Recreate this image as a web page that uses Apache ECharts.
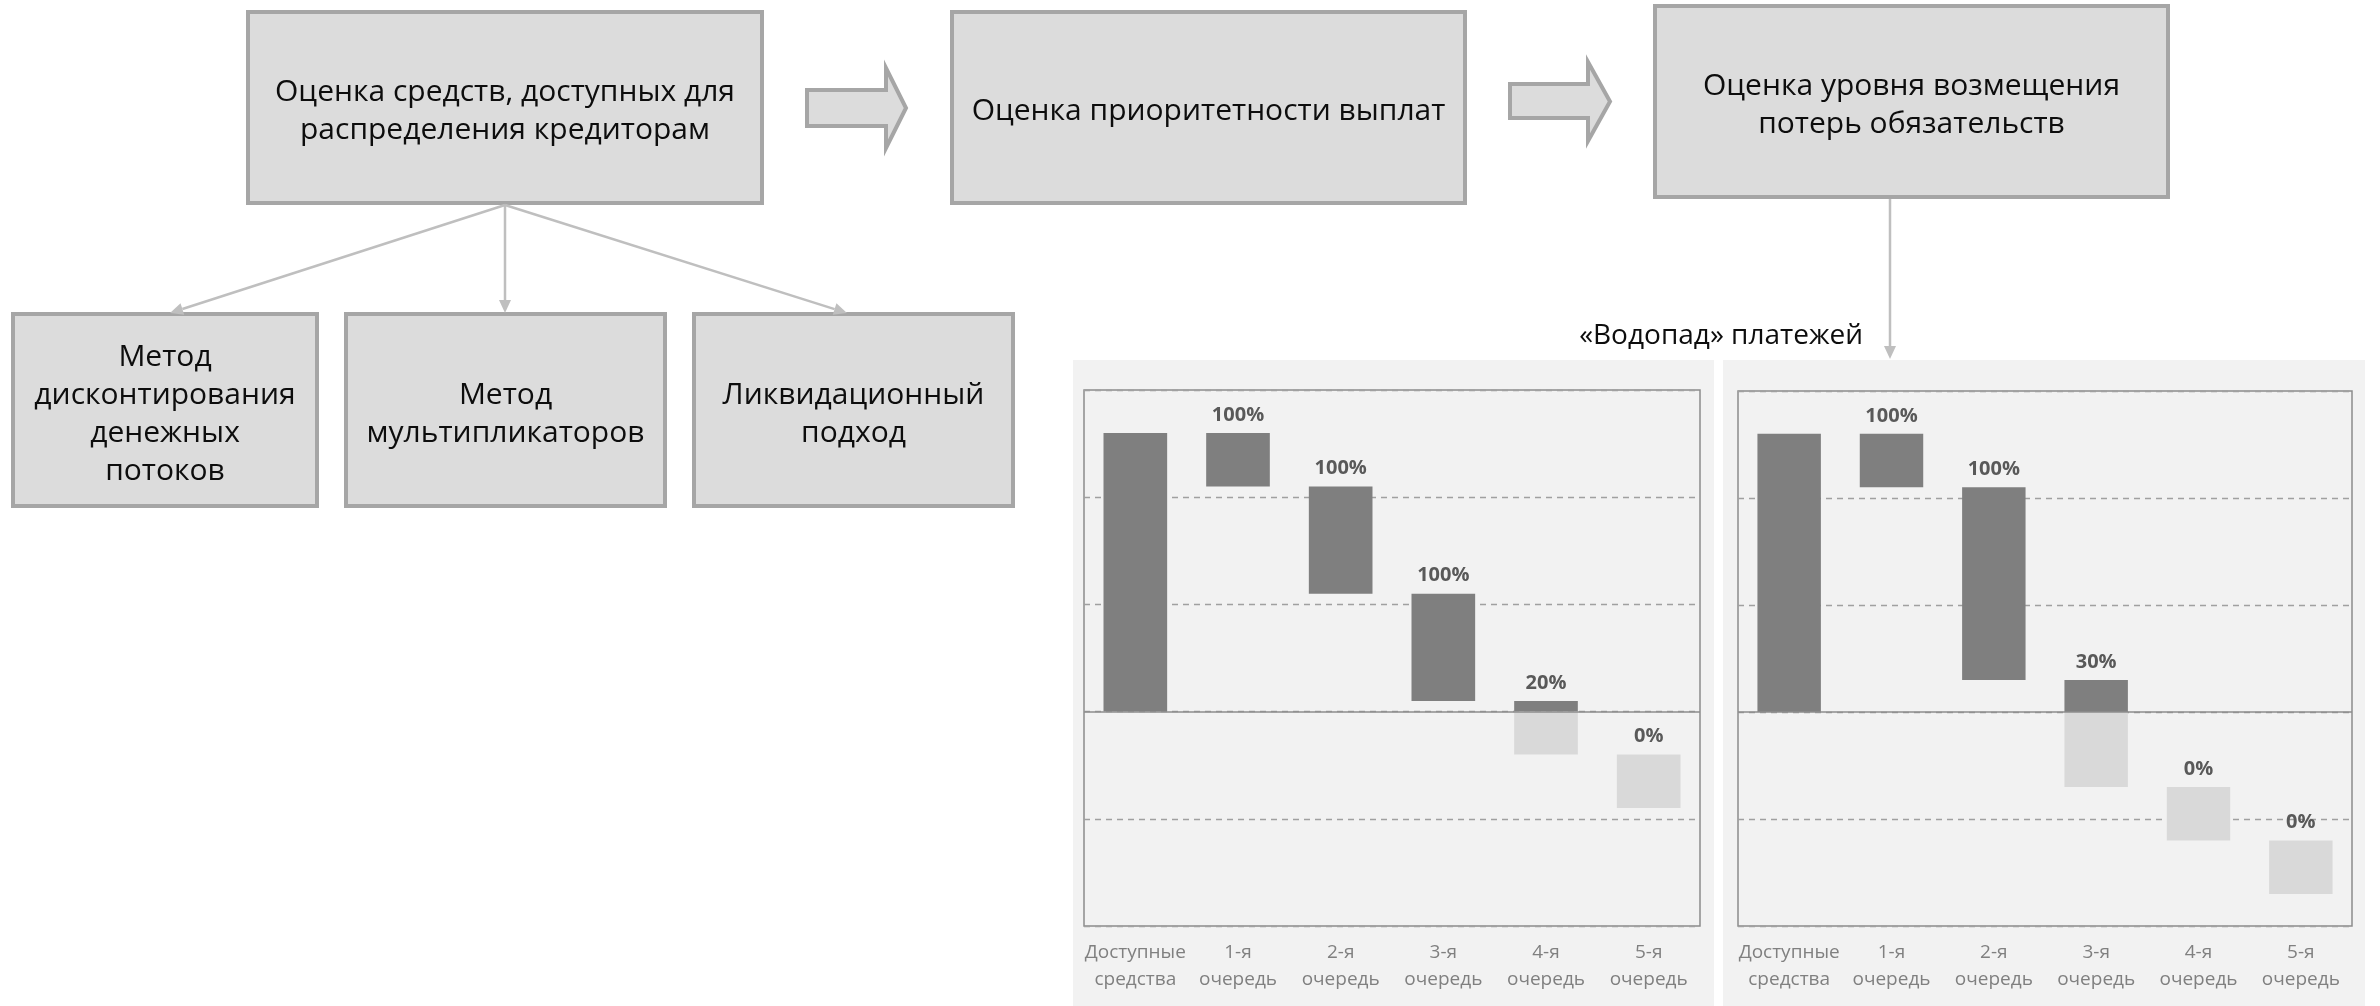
<!DOCTYPE html>
<html>
<head>
<meta charset="utf-8">
<script src="https://cdn.jsdelivr.net/npm/echarts@6/dist/echarts.min.js"></script>
<style>
  html, body { margin: 0; padding: 0; background: #ffffff; }
  #main { width: 2380px; height: 1006px; }
</style>
</head>
<body>
<div id="main"></div>
<script>
// Waterfall categories (x axis)
const categories = ['Доступные\nсредства', '1-я\nочередь', '2-я\nочередь', '3-я\nочередь', '4-я\nочередь', '5-я\nочередь'];

// Scenario 1: available funds and claims of each priority tier
const fundsLeft = 2.6;
const claimsLeft = [0.5, 1.0, 1.0, 0.5, 0.5];

// Scenario 2
const fundsRight = 2.6;
const claimsRight = [0.5, 1.8, 1.0, 0.5, 0.5];

// Value axis range and step
const yMin = -2, yMax = 3, yStep = 1;

// Flowchart texts
const boxTexts = {
  funds: 'Оценка средств, доступных для\nраспределения кредиторам',
  priority: 'Оценка приоритетности выплат',
  recovery: 'Оценка уровня возмещения\nпотерь обязательств',
  dcf: 'Метод\nдисконтирования\nденежных\nпотоков',
  multiples: 'Метод\nмультипликаторов',
  liquidation: 'Ликвидационный\nподход'
};
const waterfallTitle = '«Водопад» платежей';

const FONT = '"Open Sans", "Noto Sans", sans-serif';
const DARK = '#7f7f7f', LIGHT = '#d9d9d9';

// Builds waterfall segments: [category, low, high, kind(0 paid / 1 unpaid)] and labels
function buildWaterfall(funds, claims) {
  const segs = [[0, 0, funds, 0]];
  const labels = [];
  let level = funds;
  claims.forEach(function (claim, i) {
    const top = level, bottom = level - claim;
    const paid = Math.min(Math.max(level, 0), claim);
    const paidBottom = top - paid;
    if (paid > 0) segs.push([i + 1, paidBottom, top, 0]);
    if (claim - paid > 0) segs.push([i + 1, bottom, paidBottom, 1]);
    labels.push({ cat: i + 1, top: top, text: Math.round(paid / claim * 100) + '%' });
    level = bottom;
  });
  return { segs: segs, labels: labels };
}

const wfLeft = buildWaterfall(fundsLeft, claimsLeft);
const wfRight = buildWaterfall(fundsRight, claimsRight);

function segRenderer(params, api) {
  const c = api.value(0), lo = api.value(1), hi = api.value(2), kind = api.value(3);
  const pTop = api.coord([c, hi]);
  const pBot = api.coord([c, lo]);
  const w = api.size([1, 0])[0] * 0.62;
  return {
    type: 'rect',
    shape: { x: pTop[0] - w / 2, y: pTop[1], width: w, height: pBot[1] - pTop[1] },
    style: { fill: kind ? LIGHT : DARK }
  };
}

function labelRenderer(labels) {
  return function (params, api) {
    const lab = labels[params.dataIndex];
    const p = api.coord([lab.cat, lab.top]);
    return {
      type: 'text',
      x: p[0], y: p[1] - 8,
      style: {
        text: lab.text, fill: '#595959',
        font: 'bold 20px ' + FONT,
        textAlign: 'center', textVerticalAlign: 'bottom'
      }
    };
  };
}

// ---- flowchart graphics ----
function box(x, y, w, h, text, lineH) {
  return [
    { type: 'rect', shape: { x: x, y: y, width: w, height: h },
      style: { fill: '#dcdcdc', stroke: '#a6a6a6', lineWidth: 4 } },
    { type: 'text', x: x + w / 2, y: y + h / 2 + 4,
      style: { text: text, fill: '#0d0d0d', font: '30px ' + FONT, lineHeight: lineH || 38,
               textAlign: 'center', textVerticalAlign: 'middle' } }
  ];
}

function blockArrow(x0, headX, tip, bodyTop, bodyBot, headTop, headBot) {
  const mid = (headTop + headBot) / 2;
  return {
    type: 'polygon',
    shape: { points: [[x0, bodyTop], [headX, bodyTop], [headX, headTop], [tip, mid],
                      [headX, headBot], [headX, bodyBot], [x0, bodyBot]] },
    style: { fill: '#dcdcdc', stroke: '#a6a6a6', lineWidth: 4 }
  };
}

function connector(x1, y1, x2, y2) {
  const dx = x2 - x1, dy = y2 - y1, len = Math.sqrt(dx * dx + dy * dy);
  const ux = dx / len, uy = dy / len;
  const hl = 13, hw = 6;
  const bx = x2 - ux * hl, by = y2 - uy * hl;
  return [
    { type: 'line', shape: { x1: x1, y1: y1, x2: bx, y2: by },
      style: { stroke: '#bfbfbf', lineWidth: 2.5 } },
    { type: 'polygon',
      shape: { points: [[x2, y2], [bx - uy * hw, by + ux * hw], [bx + uy * hw, by - ux * hw]] },
      style: { fill: '#bfbfbf' } }
  ];
}

const graphics = [].concat(
  // panel backgrounds
  [{ type: 'rect', z: -10, shape: { x: 1073, y: 360, width: 641, height: 646 }, style: { fill: '#f2f2f2' } },
   { type: 'rect', z: -10, shape: { x: 1723, y: 360, width: 642, height: 646 }, style: { fill: '#f2f2f2' } }],
  box(248, 12, 514, 191, boxTexts.funds),
  box(952, 12, 513, 191, boxTexts.priority),
  box(1655, 6, 513, 191, boxTexts.recovery),
  box(13, 314, 304, 192, boxTexts.dcf),
  box(346, 314, 319, 192, boxTexts.multiples),
  box(694, 314, 319, 192, boxTexts.liquidation),
  [blockArrow(807, 886, 906, 90, 126, 68, 148),
   blockArrow(1510, 1588, 1610, 84, 118, 62, 141)],
  connector(505, 205, 170, 313),
  connector(505, 205, 505, 313),
  connector(505, 205, 847, 313),
  connector(1890, 199, 1890, 359),
  [{ type: 'text', x: 1863, y: 336,
     style: { text: waterfallTitle, fill: '#0d0d0d', font: '28px ' + FONT,
              textAlign: 'right', textVerticalAlign: 'middle' } }]
);

function makeXAxis(gridIndex) {
  return {
    type: 'category', gridIndex: gridIndex, data: categories,
    axisLine: { show: false }, axisTick: { show: false },
    axisLabel: { color: '#808080', fontSize: 19, lineHeight: 27, margin: 13,
                 fontFamily: FONT, interval: 0 },
    splitLine: { show: false }
  };
}
function makeYAxis(gridIndex) {
  return {
    type: 'value', gridIndex: gridIndex, min: yMin, max: yMax, interval: yStep,
    axisLine: { show: false }, axisTick: { show: false }, axisLabel: { show: false },
    splitLine: { show: true, lineStyle: { color: '#a0a0a0', width: 1.3, type: [6, 5] } }
  };
}
const zeroLine = {
  silent: true, symbol: 'none', label: { show: false },
  lineStyle: { color: '#8c8c8c', width: 1.5, type: 'solid' },
  data: [{ yAxis: 0 }]
};

const option = {
  animation: false,
  backgroundColor: '#ffffff',
  graphic: { elements: graphics },
  grid: [
    { left: 1084, top: 390, width: 616, height: 536, show: true,
      borderColor: '#8c8c8c', borderWidth: 1.5, backgroundColor: 'transparent' },
    { left: 1738, top: 391, width: 614, height: 535, show: true,
      borderColor: '#8c8c8c', borderWidth: 1.5, backgroundColor: 'transparent' }
  ],
  xAxis: [makeXAxis(0), makeXAxis(1)],
  yAxis: [makeYAxis(0), makeYAxis(1)],
  series: [
    { type: 'custom', xAxisIndex: 0, yAxisIndex: 0, renderItem: segRenderer,
      encode: { x: 0, y: [1, 2] }, data: wfLeft.segs, markLine: zeroLine, z: 2 },
    { type: 'custom', xAxisIndex: 0, yAxisIndex: 0, renderItem: labelRenderer(wfLeft.labels),
      encode: { x: 0, y: 1 }, data: wfLeft.labels.map(function (l) { return [l.cat, l.top]; }), z: 3 },
    { type: 'custom', xAxisIndex: 1, yAxisIndex: 1, renderItem: segRenderer,
      encode: { x: 0, y: [1, 2] }, data: wfRight.segs, markLine: zeroLine, z: 2 },
    { type: 'custom', xAxisIndex: 1, yAxisIndex: 1, renderItem: labelRenderer(wfRight.labels),
      encode: { x: 0, y: 1 }, data: wfRight.labels.map(function (l) { return [l.cat, l.top]; }), z: 3 }
  ]
};

const chart = echarts.init(document.getElementById('main'), null, { renderer: 'canvas' });
chart.setOption(option);
</script>
</body>
</html>
